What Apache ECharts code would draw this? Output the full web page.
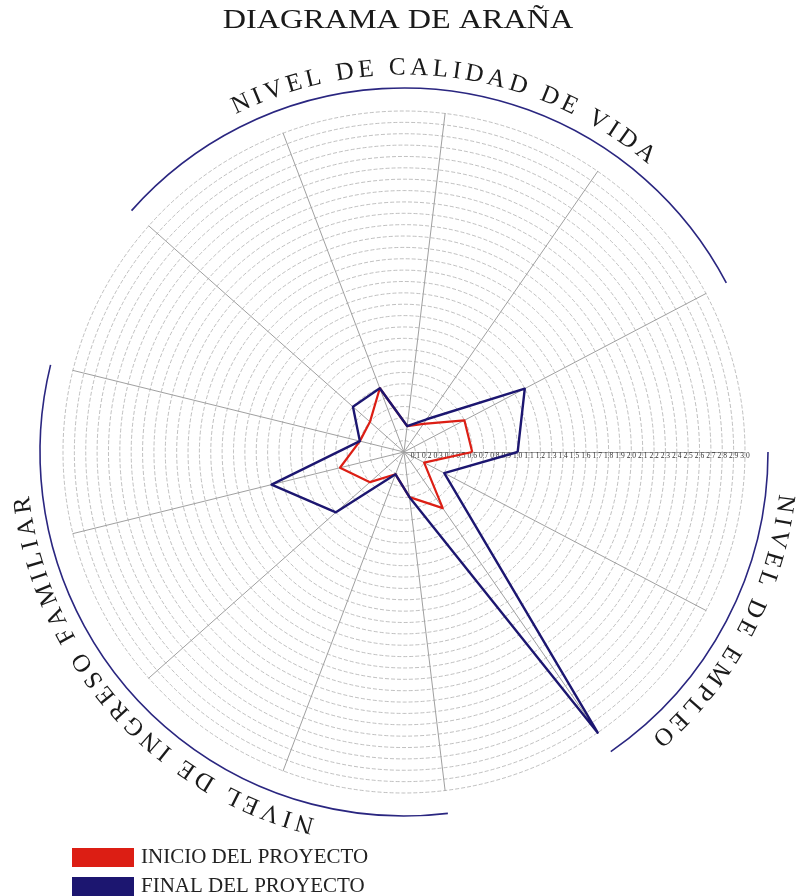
<!DOCTYPE html>
<html>
<head>
<meta charset="utf-8">
<title>Diagrama de araña</title>
<script src="https://cdn.jsdelivr.net/npm/echarts@6/dist/echarts.min.js"></script>
<style>
  html, body { margin: 0; padding: 0; background: #fff; }
  #chart { width: 797px; height: 896px; }
</style>
</head>
<body>
<div id="chart"></div>
<script>
// 13 ejes: el primero a la derecha, los demás en sentido antihorario
var ejes = ['E1', 'E2', 'E3', 'E4', 'E5', 'E6', 'E7', 'E8', 'E9', 'E10', 'E11', 'E12', 'E13'];
var inicioProyecto = [0.6, 0.6, 0.3, 0.23, 0.6, 0.4, 0.4, 0.58, 0.4, 0.21, 0.4, 0.6, 0.2];
var finalProyecto = [1.0, 1.2, 0.35, 0.23, 0.6, 0.6, 0.4, 1.2, 0.8, 0.21, 0.4, 3.0, 0.4];
var escalaMax = 3.0;
var divisiones = 30;   // un círculo cada 0.1

// rótulos curvos: cada arco va del eje "desde" al eje "hasta"
var grupos = [
    { nombre: 'NIVEL DE CALIDAD DE VIDA', desde: 1, hasta: 5 },
    { nombre: 'NIVEL DE INGRESO FAMILIAR', desde: 6, hasta: 10 },
    { nombre: 'NIVEL DE EMPLEO', desde: 11, hasta: 13 }
];

var colorInicio = '#dc1e14';
var colorFinal = '#1c1670';
var fuente = '"Liberation Serif", "Times New Roman", serif';

// geometría del diagrama
var cx = 404, cy = 452, radio = 341;
var radioArco = 364, radioTexto = 384;
var tamLetra = 25, espaciado = 4.6;

var chart = echarts.init(document.getElementById('chart'));

// ángulo (radianes, antihorario desde la derecha) de un eje
function anguloEje(i) {
    return i * 2 * Math.PI / ejes.length;
}

// medir letras para repartirlas sobre el arco
var ctx = document.createElement('canvas').getContext('2d');
ctx.font = tamLetra + 'px ' + fuente;

function textoCurvo(grupo) {
    var a0 = anguloEje(grupo.desde), a1 = anguloEje(grupo.hasta);
    var medio = (a0 + a1) / 2;
    var letras = grupo.nombre.split('');
    var anchos = letras.map(function(ch) { return ctx.measureText(ch).width; });
    var total = anchos.reduce(function(s, w) { return s + w; }, 0) + espaciado * (letras.length - 1);
    var elementos = [];
    var pos = 0;
    letras.forEach(function(ch, i) {
        var centro = pos + anchos[i] / 2 - total / 2;
        var phi = medio - centro / radioTexto;   // se lee en sentido horario
        pos += anchos[i] + espaciado;
        if (ch === ' ') return;
        elementos.push({
            type: 'text',
            x: cx + radioTexto * Math.cos(phi),
            y: cy - radioTexto * Math.sin(phi),
            rotation: phi - Math.PI / 2,
            silent: true,
            style: {
                text: ch,
                fontSize: tamLetra,
                fontFamily: fuente,
                fill: '#1a1a1a',
                align: 'center',
                verticalAlign: 'middle',
                textAlign: 'center',
                textVerticalAlign: 'middle'
            }
        });
    });
    // arco azul bajo el rótulo
    elementos.push({
        type: 'arc',
        silent: true,
        shape: { cx: cx, cy: cy, r: radioArco, startAngle: -a1, endAngle: -a0, clockwise: true },
        style: { stroke: '#2a2680', lineWidth: 1.6, fill: null }
    });
    return elementos;
}

var graficos = [{
    type: 'text',
    x: 398,
    y: 21,
    scaleX: 1.15,
    silent: true,
    style: {
        text: 'DIAGRAMA DE ARAÑA',
        fontSize: 28,
        fontFamily: fuente,
        fill: '#1a1a1a',
        align: 'center',
        verticalAlign: 'middle',
        textAlign: 'center',
        textVerticalAlign: 'middle'
    }
}];
grupos.forEach(function(g) {
    graficos = graficos.concat(textoCurvo(g));
});

var indicadores = ejes.map(function(nombre, i) {
    var ind = { name: nombre, min: 0, max: escalaMax };
    // solo el eje horizontal lleva la escala
    if (i === 0) {
        ind.axisLabel = { show: true };
    }
    return ind;
});

var option = {
    backgroundColor: '#fff',
    animation: false,
    legend: {
        left: 72,
        top: 847,
        height: 60,
        padding: 0,
        orient: 'vertical',
        icon: 'rect',
        itemWidth: 62,
        itemHeight: 19,
        itemGap: 8,
        selectedMode: false,
        textStyle: { fontFamily: fuente, fontSize: 21, color: '#222', padding: [0, 0, 0, 2] },
        data: ['INICIO DEL PROYECTO', 'FINAL DEL PROYECTO']
    },
    radar: {
        center: [cx, cy],
        radius: radio,
        startAngle: 0,
        shape: 'circle',
        splitNumber: divisiones,
        indicator: indicadores,
        axisName: { show: false },
        axisLine: { lineStyle: { color: '#a0a0a0', width: 1 } },
        axisTick: { show: false },
        splitArea: { show: false },
        splitLine: { lineStyle: { color: '#b0b0b0', width: 0.8, type: [4, 2] } },
        axisLabel: {
            show: false,
            fontSize: 7.5,
            fontFamily: fuente,
            color: '#333',
            margin: -8,
            formatter: function(v) { return v === 0 ? '' : v.toFixed(1); }
        }
    },
    graphic: graficos,
    series: [{
        type: 'radar',
        symbol: 'none',
        silent: true,
        data: [
            {
                name: 'INICIO DEL PROYECTO',
                value: inicioProyecto,
                lineStyle: { color: colorInicio, width: 2.2 },
                itemStyle: { color: colorInicio }
            },
            {
                name: 'FINAL DEL PROYECTO',
                value: finalProyecto,
                lineStyle: { color: colorFinal, width: 2.4 },
                itemStyle: { color: colorFinal }
            }
        ]
    }]
};

chart.setOption(option);
</script>
</body>
</html>
